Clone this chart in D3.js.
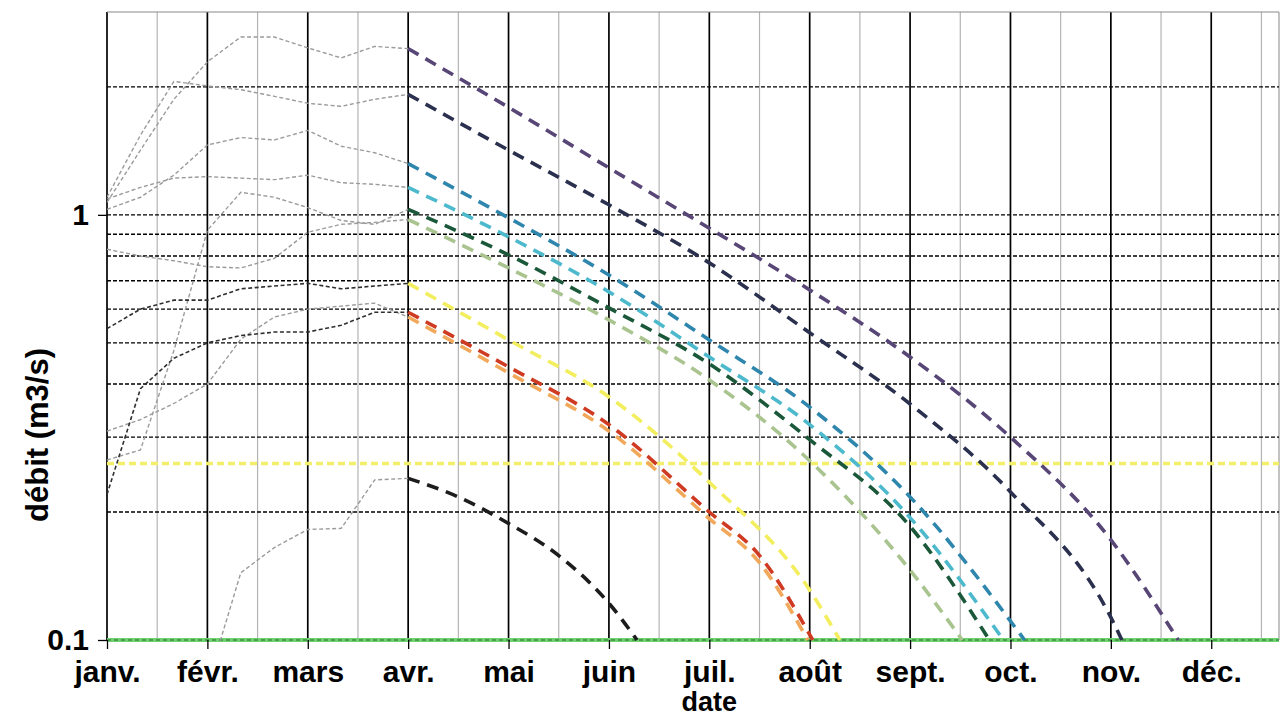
<!DOCTYPE html>
<html>
<head>
<meta charset="utf-8">
<script src="https://cdn.jsdelivr.net/npm/d3@7"></script>
<style>
  body { margin: 0; background: #fff; }
  svg { display: block; }
  text { font-family: "Liberation Sans", Arial, sans-serif; font-weight: bold; fill: #000; }
</style>
</head>
<body>
<svg id="chart" width="1284" height="717"></svg>
<script>
// ---- data ----------------------------------------------------------------
const months = ["janv.", "févr.", "mars", "avr.", "mai", "juin", "juil.", "août", "sept.", "oct.", "nov.", "déc."];
const yTickValues = [0.1, 1];
const yTickLabels = ["0.1", "1"];
const thresholds = [2, 1, 0.9, 0.8, 0.7, 0.6, 0.5, 0.4, 0.3, 0.2];
const alertLevel = 0.26;
const floorLevel = 0.1;

// observed flows, one value every ten days from 1 Jan to 1 Apr (x in months)
const obsDates = [0, 1/3, 2/3, 1, 4/3, 5/3, 2, 7/3, 8/3, 3];
const obsPurple = [1.07, 1.42, 1.87, 2.29, 2.62, 2.62, 2.47, 2.34, 2.49, 2.46];
const obsNavy   = [1.10, 1.54, 2.06, 2.01, 1.97, 1.90, 1.83, 1.80, 1.87, 1.92];
const obsTeal   = [1.03, 1.10, 1.24, 1.46, 1.52, 1.50, 1.58, 1.45, 1.40, 1.32];
const obsCyan   = [1.09, 1.16, 1.22, 1.23, 1.22, 1.21, 1.24, 1.19, 1.18, 1.16];
const obsGreen  = [0.265, 0.28, 0.48, 0.92, 1.13, 1.10, 1.04, 0.97, 0.95, 1.03];
const obsKhaki  = [0.83, 0.80, 0.78, 0.755, 0.75, 0.79, 0.91, 0.95, 0.96, 0.975];
const obsYellow = [0.54, 0.60, 0.63, 0.63, 0.67, 0.68, 0.69, 0.67, 0.68, 0.69];
const obsOrange = [0.31, 0.33, 0.36, 0.40, 0.51, 0.575, 0.60, 0.61, 0.62, 0.575];
const obsRed    = [0.22, 0.39, 0.46, 0.50, 0.52, 0.53, 0.53, 0.55, 0.59, 0.59];
const obsBlack  = [0.07, 0.07, 0.072, 0.079, 0.144, 0.165, 0.182, 0.183, 0.238, 0.24];

// recession forecasts from 1 Apr down to the 0.1 m3/s floor (x in months)
const recPurpleX = [3, 4, 5, 6, 7, 8, 9, 10, 10.67];
const recPurpleY = [2.46, 1.79, 1.29, 0.93, 0.666, 0.463, 0.300, 0.172, 0.1];
const recNavyX   = [3, 4, 5, 6, 7, 8, 9, 10, 10.11];
const recNavyY   = [1.92, 1.42, 1.056, 0.771, 0.528, 0.359, 0.223, 0.113, 0.1];
const recTealX   = [3, 4, 5, 6, 7, 8, 9.14];
const recTealY   = [1.32, 0.984, 0.722, 0.508, 0.353, 0.217, 0.1];
const recCyanX   = [3, 4, 5, 6, 7, 8, 8.93];
const recCyanY   = [1.16, 0.888, 0.659, 0.463, 0.321, 0.194, 0.1];
const recGreenX  = [3, 4, 5, 6, 7, 8, 8.79];
const recGreenY  = [1.03, 0.805, 0.604, 0.446, 0.296, 0.185, 0.1];
const recKhakiX  = [3, 4, 5, 6, 7, 8, 8.52];
const recKhakiY  = [0.975, 0.75, 0.566, 0.409, 0.264, 0.146, 0.1];
const recYellowX = [3, 4, 5, 6, 7, 7.30];
const recYellowY = [0.69, 0.508, 0.373, 0.235, 0.131, 0.1];
const recOrangeX = [3, 4, 5, 6, 6.5, 6.98];
const recOrangeY = [0.575, 0.425, 0.31, 0.193, 0.152, 0.1];
const recRedX    = [3, 4, 5, 6, 6.5, 7.03];
const recRedY    = [0.59, 0.439, 0.321, 0.2, 0.158, 0.1];
const recBlackX  = [3, 3.5, 4, 4.5, 5, 5.28];
const recBlackY  = [0.24, 0.217, 0.188, 0.158, 0.122, 0.1];

// ---- series table ----------------------------------------------------------
const series = [
  { obs: obsPurple, rx: recPurpleX, ry: recPurpleY, color: "#574676", dark: false },
  { obs: obsNavy,   rx: recNavyX,   ry: recNavyY,   color: "#2a304e", dark: false },
  { obs: obsTeal,   rx: recTealX,   ry: recTealY,   color: "#2f86ad", dark: false },
  { obs: obsCyan,   rx: recCyanX,   ry: recCyanY,   color: "#4cb9cc", dark: false },
  { obs: obsGreen,  rx: recGreenX,  ry: recGreenY,  color: "#1b5839", dark: false },
  { obs: obsKhaki,  rx: recKhakiX,  ry: recKhakiY,  color: "#a9c48f", dark: false },
  { obs: obsYellow, rx: recYellowX, ry: recYellowY, color: "#f2ee5e", dark: true },
  { obs: obsOrange, rx: recOrangeX, ry: recOrangeY, color: "#f2a85a", dark: false },
  { obs: obsRed,    rx: recRedX,    ry: recRedY,    color: "#cf3a22", dark: true },
  { obs: obsBlack,  rx: recBlackX,  ry: recBlackY,  color: "#1c1c1c", dark: false }
];

// ---- layout ----------------------------------------------------------------
const svg = d3.select("#chart");
const plotLeft = 107, plotRight = 1279, plotTop = 12, plotBottom = 640;

const x = d3.scaleLinear().domain([0, 11.675]).range([plotLeft, plotRight]);
const y = d3.scaleLog().domain([0.1, 3]).range([plotBottom, plotTop]);

svg.append("defs").append("clipPath").attr("id", "plot-clip")
  .append("rect").attr("x", plotLeft).attr("y", plotTop - 2)
  .attr("width", plotRight - plotLeft).attr("height", plotBottom - plotTop + 4);

// vertical grid: mid-month light lines, month starts dark lines
const minor = d3.range(12).map(m => m + 0.5).filter(m => x(m) < plotRight);
svg.append("g").selectAll("line").data(minor).join("line")
  .attr("x1", d => x(d)).attr("x2", d => x(d))
  .attr("y1", plotTop).attr("y2", plotBottom)
  .attr("stroke", "#b4b4b4").attr("stroke-width", 1.2);

svg.append("g").selectAll("line").data(d3.range(12)).join("line")
  .attr("x1", d => x(d)).attr("x2", d => x(d))
  .attr("y1", plotTop).attr("y2", plotBottom)
  .attr("stroke", "#000").attr("stroke-width", 1.7);

// frame top and right
svg.append("line").attr("x1", plotLeft).attr("x2", plotRight).attr("y1", plotTop).attr("y2", plotTop)
  .attr("stroke", "#8a8a8a").attr("stroke-width", 1.2);
svg.append("line").attr("x1", plotRight).attr("x2", plotRight).attr("y1", plotTop).attr("y2", plotBottom)
  .attr("stroke", "#9a9a9a").attr("stroke-width", 1.2);

// threshold lines
svg.append("g").selectAll("line").data(thresholds).join("line")
  .attr("x1", plotLeft).attr("x2", plotRight)
  .attr("y1", d => y(d)).attr("y2", d => y(d))
  .attr("stroke", "#000").attr("stroke-width", 1.4)
  .attr("stroke-dasharray", "4,2");

// alert level
svg.append("line").attr("x1", plotLeft).attr("x2", plotRight)
  .attr("y1", y(alertLevel)).attr("y2", y(alertLevel))
  .attr("stroke", "#f3ef6a").attr("stroke-width", 3.5)
  .attr("stroke-dasharray", "7,4");

// floor level
svg.append("line").attr("x1", plotLeft).attr("x2", plotRight)
  .attr("y1", y(floorLevel)).attr("y2", y(floorLevel))
  .attr("stroke", "#6fd16f").attr("stroke-width", 4);
svg.append("line").attr("x1", plotLeft).attr("x2", plotRight)
  .attr("y1", y(floorLevel)).attr("y2", y(floorLevel))
  .attr("stroke", "#2a6a2a").attr("stroke-width", 1)
  .attr("stroke-dasharray", "4,3");

const plot = svg.append("g").attr("clip-path", "url(#plot-clip)");

// observed flows
const obsLine = d3.line().x((d, i) => x(obsDates[i])).y(d => y(d));
plot.append("g").selectAll("path").data(series).join("path")
  .attr("d", s => obsLine(s.obs))
  .attr("fill", "none")
  .attr("stroke", s => s.dark ? "#2e2e2e" : "#9b9b9b")
  .attr("stroke-width", s => s.dark ? 1.6 : 1.4)
  .attr("stroke-dasharray", "4,2.5");

// recession forecasts
const recLine = d3.line().curve(d3.curveMonotoneX);
plot.append("g").selectAll("path").data(series).join("path")
  .attr("d", s => recLine(s.rx.map((v, i) => [x(v), y(s.ry[i])])))
  .attr("fill", "none")
  .attr("stroke", s => s.color)
  .attr("stroke-width", 3.6)
  .attr("stroke-dasharray", "12,8");

// axes
const xAxis = svg.append("g").attr("transform", `translate(0,${plotBottom})`)
  .call(d3.axisBottom(x).tickValues(d3.range(12)).tickFormat(i => months[i]).tickSize(9).tickPadding(12));
xAxis.select(".domain").remove();
xAxis.selectAll("line").attr("stroke", "#000").attr("stroke-width", 1.3);
xAxis.selectAll("text").attr("font-size", 30).attr("dy", "0.71em");

const yAxis = svg.append("g").attr("transform", `translate(${plotLeft},0)`)
  .call(d3.axisLeft(y).tickValues(yTickValues).tickFormat((d, i) => yTickLabels[i]).tickSize(9).tickPadding(9));
yAxis.select(".domain").remove();
yAxis.selectAll("line").attr("stroke", "#000").attr("stroke-width", 1.3);
yAxis.selectAll("text").attr("font-size", 30);

// axis titles
svg.append("text").attr("x", x(6)).attr("y", 711)
  .attr("text-anchor", "middle").attr("font-size", 27).text("date");
svg.append("text").attr("transform", "translate(48,435) rotate(-90)")
  .attr("text-anchor", "middle").attr("font-size", 31).text("débit (m3/s)");
</script>
</body>
</html>
